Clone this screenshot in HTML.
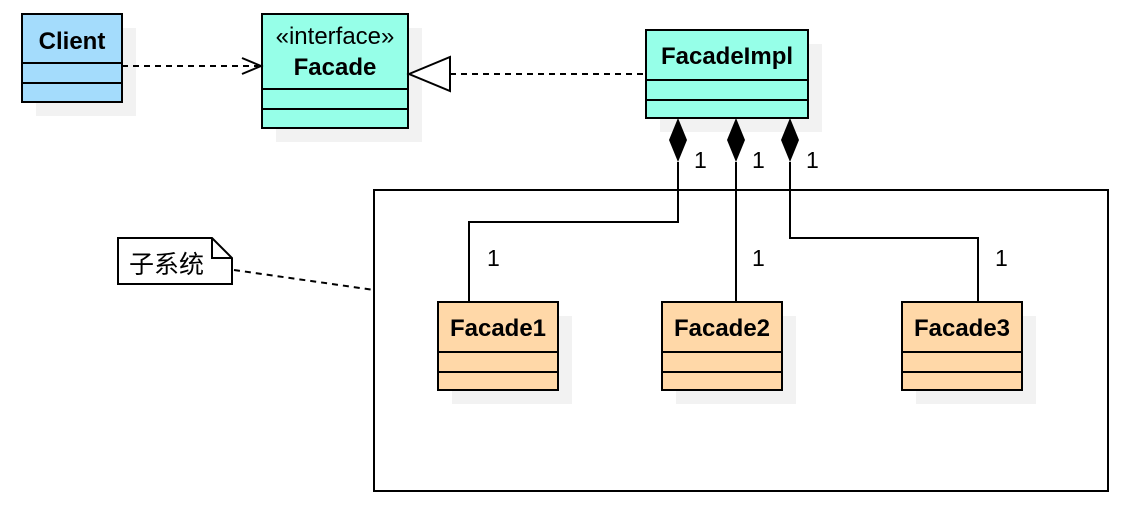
<!DOCTYPE html>
<html><head><meta charset="utf-8"><style>body{margin:0;background:#fff}svg{display:block}</style></head><body>
<svg width="1130" height="516" xmlns="http://www.w3.org/2000/svg" font-family="Liberation Sans, sans-serif">
<g fill="#f2f2f2">
<rect x="36" y="28" width="100" height="88"/>
<rect x="276" y="28" width="146" height="114"/>
<rect x="660" y="44" width="162" height="88"/>
<rect x="452" y="316" width="120" height="88"/>
<rect x="676" y="316" width="120" height="88"/>
<rect x="916" y="316" width="120" height="88"/>
</g>
<g stroke="#000" stroke-width="2">
<rect x="22" y="14" width="100" height="88" fill="#a4dcfc"/>
<line x1="22" y1="63" x2="122" y2="63"/><line x1="22" y1="83" x2="122" y2="83"/>
<rect x="262" y="14" width="146" height="114" fill="#96ffe8"/>
<line x1="262" y1="89" x2="408" y2="89"/><line x1="262" y1="109" x2="408" y2="109"/>
<rect x="646" y="30" width="162" height="88" fill="#96ffe8"/>
<line x1="646" y1="80" x2="808" y2="80"/><line x1="646" y1="100" x2="808" y2="100"/>
<rect x="374" y="190" width="734" height="301" fill="none"/>
<rect x="438" y="302" width="120" height="88" fill="#ffd8a8"/>
<line x1="438" y1="352" x2="558" y2="352"/><line x1="438" y1="372" x2="558" y2="372"/>
<rect x="662" y="302" width="120" height="88" fill="#ffd8a8"/>
<line x1="662" y1="352" x2="782" y2="352"/><line x1="662" y1="372" x2="782" y2="372"/>
<rect x="902" y="302" width="120" height="88" fill="#ffd8a8"/>
<line x1="902" y1="352" x2="1022" y2="352"/><line x1="902" y1="372" x2="1022" y2="372"/>
<path d="M118 238 H212 L232 258 V284 H118 Z" fill="#fff"/>
<path d="M212 238 V258 H232" fill="none"/>
<g fill="none" stroke-dasharray="6,5">
<line x1="122" y1="66" x2="258" y2="66"/>
<line x1="450" y1="74" x2="646" y2="74"/>
<line x1="234" y1="270" x2="374" y2="290"/>
</g>
<polyline points="242,58 261,66 242,74" fill="none"/>
<polygon points="409,74 450,57 450,91" fill="#fff"/>
<polyline points="678,162 678,222 469,222 469,302" fill="none"/>
<line x1="736" y1="162" x2="736" y2="302"/>
<polyline points="790,162 790,238 978,238 978,302" fill="none"/>
</g>
<g fill="#000">
<polygon points="678,118 687,140 678,162 669,140"/>
<polygon points="736,118 745,140 736,162 727,140"/>
<polygon points="790,118 799,140 790,162 781,140"/>
</g>
<g font-weight="bold" font-size="24" text-anchor="middle">
<text x="72" y="49">Client</text>
<text x="335" y="75">Facade</text>
<text x="727" y="64">FacadeImpl</text>
<text x="498" y="336">Facade1</text>
<text x="722" y="336">Facade2</text>
<text x="962" y="336">Facade3</text>
</g>
<text x="335" y="44" font-size="24" text-anchor="middle">«interface»</text>
<g font-size="23">
<text x="694" y="168">1</text><text x="752" y="168">1</text><text x="806" y="168">1</text>
<text x="487" y="266">1</text><text x="752" y="266">1</text><text x="995" y="266">1</text>
</g>
<text x="129" y="273" font-size="25" font-family="Liberation Sans, Noto Sans CJK SC, sans-serif">子系统</text>
</svg>
</body></html>
